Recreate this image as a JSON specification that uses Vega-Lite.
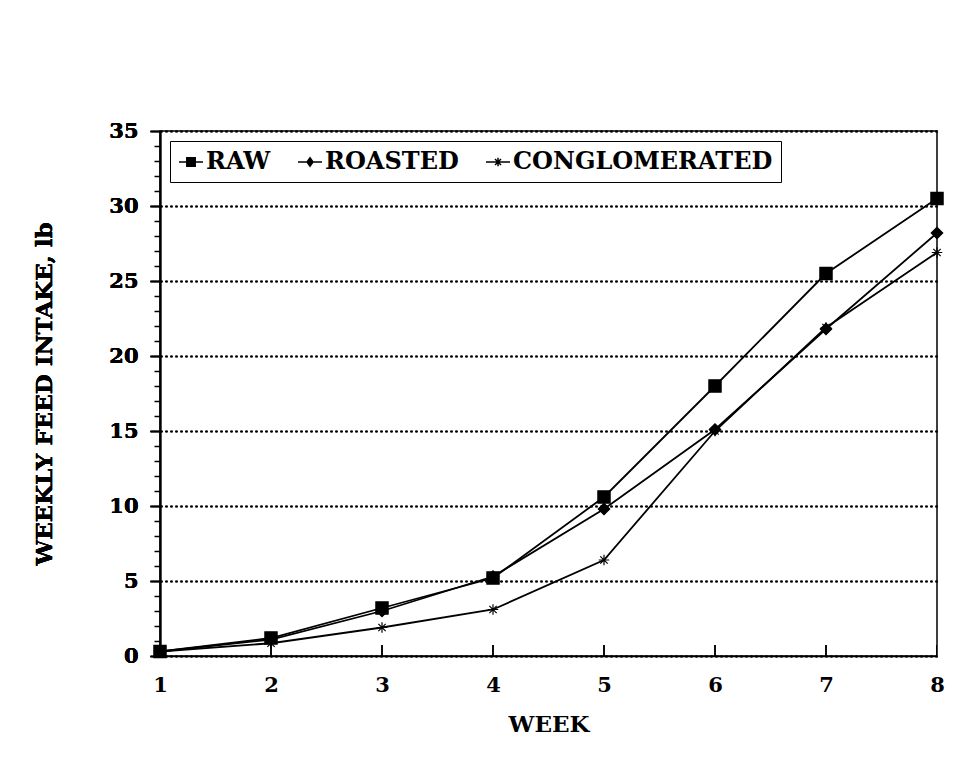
{
  "$schema": "https://vega.github.io/schema/vega-lite/v6.json",
  "width": 777,
  "height": 525,
  "autosize": {"type": "none"},
  "padding": {"left": 160, "top": 131, "right": 21, "bottom": 116},
  "background": "white",
  "config": {
    "view": {"stroke": "black", "strokeWidth": 1.5},
    "font": "DejaVu Serif",
    "axis": {
      "labelFont": "DejaVu Serif",
      "labelFontWeight": "bold",
      "labelFontSize": 21,
      "labelColor": "black",
      "titleFont": "DejaVu Serif",
      "titleFontWeight": "bold",
      "titleFontSize": 23,
      "titleColor": "black",
      "domainColor": "black",
      "domainWidth": 1.5,
      "tickColor": "black",
      "tickWidth": 1.5
    }
  },
  "data": {
    "values": [
      {"week": 1, "series": "RAW", "value": 0.3},
      {"week": 2, "series": "RAW", "value": 1.2},
      {"week": 3, "series": "RAW", "value": 3.2},
      {"week": 4, "series": "RAW", "value": 5.2},
      {"week": 5, "series": "RAW", "value": 10.6},
      {"week": 6, "series": "RAW", "value": 18.0},
      {"week": 7, "series": "RAW", "value": 25.5},
      {"week": 8, "series": "RAW", "value": 30.5},
      {"week": 1, "series": "ROASTED", "value": 0.3},
      {"week": 2, "series": "ROASTED", "value": 1.1},
      {"week": 3, "series": "ROASTED", "value": 3.0},
      {"week": 4, "series": "ROASTED", "value": 5.3},
      {"week": 5, "series": "ROASTED", "value": 9.8},
      {"week": 6, "series": "ROASTED", "value": 15.1},
      {"week": 7, "series": "ROASTED", "value": 21.8},
      {"week": 8, "series": "ROASTED", "value": 28.2},
      {"week": 1, "series": "CONGLOMERATED", "value": 0.3},
      {"week": 2, "series": "CONGLOMERATED", "value": 0.85},
      {"week": 3, "series": "CONGLOMERATED", "value": 1.9},
      {"week": 4, "series": "CONGLOMERATED", "value": 3.1},
      {"week": 5, "series": "CONGLOMERATED", "value": 6.4},
      {"week": 6, "series": "CONGLOMERATED", "value": 15.0},
      {"week": 7, "series": "CONGLOMERATED", "value": 21.9},
      {"week": 8, "series": "CONGLOMERATED", "value": 26.9}
    ]
  },
  "encoding": {
    "x": {
      "field": "week",
      "type": "quantitative",
      "scale": {"domain": [1, 8], "nice": false, "zero": false},
      "axis": {
        "title": "WEEK",
        "values": [1, 2, 3, 4, 5, 6, 7, 8],
        "format": "d",
        "grid": false,
        "ticks": false,
        "labelFlush": false,
        "labelPadding": 18,
        "titlePadding": 18
      }
    },
    "y": {
      "field": "value",
      "type": "quantitative",
      "scale": {"domain": [0, 35], "nice": false},
      "axis": {
        "title": "WEEKLY FEED INTAKE, lb",
        "orient": "left",
        "values": [0, 5, 10, 15, 20, 25, 30, 35],
        "grid": true,
        "gridColor": "black",
        "gridDash": [2, 3],
        "gridWidth": 1.5,
        "tickSize": 10,
        "labelPadding": 12,
        "titlePadding": 52
      }
    }
  },
  "layer": [
    {
      "mark": {"type": "tick", "orient": "vertical", "color": "black", "size": 22, "thickness": 1.8, "clip": true},
      "encoding": {"y": {"datum": 0}}
    },
    {
      "mark": {"type": "line", "color": "black", "strokeWidth": 1.8},
      "encoding": {"detail": {"field": "series"}}
    },
    {
      "mark": {"type": "point", "filled": true, "color": "black", "stroke": "black", "strokeWidth": 1.2, "opacity": 1},
      "encoding": {
        "shape": {
          "field": "series",
          "scale": {
            "domain": ["RAW", "ROASTED", "CONGLOMERATED"],
            "range": [
              "square",
              "diamond",
              "M-1,0H1M0,-1V1M-0.7,-0.7L0.7,0.7M-0.7,0.7L0.7,-0.7"
            ]
          },
          "legend": null
        },
        "size": {
          "field": "series",
          "scale": {"domain": ["RAW", "ROASTED", "CONGLOMERATED"], "range": [150, 110, 110]},
          "legend": null
        }
      }
    },
    {
      "mark": {"type": "point", "filled": true, "color": "black", "stroke": "black", "opacity": 0},
      "encoding": {
        "shape": {
          "field": "series",
          "scale": {
            "domain": ["RAW", "ROASTED", "CONGLOMERATED"],
            "range": [
              "M-1,0H1M-0.35,-0.35H0.35V0.35H-0.35Z",
              "M-1,0H1M0,-0.35L0.25,0L0,0.35L-0.25,0Z",
              "M-1,0H1M0,-0.35V0.35M-0.25,-0.25L0.25,0.25M-0.25,0.25L0.25,-0.25"
            ]
          },
          "legend": {
            "title": null,
            "orient": "top-left",
            "offset": 10,
            "direction": "horizontal",
            "strokeColor": "black",
            "padding": 8,
            "labelFont": "DejaVu Serif",
            "labelFontWeight": "bold",
            "labelFontSize": 24,
            "labelColor": "black",
            "labelLimit": 500,
            "labelOffset": 2,
            "columnPadding": 24,
            "symbolSize": 576,
            "encode": {
              "symbols": {
                "update": {
                  "fill": {"value": "black"},
                  "stroke": {"value": "black"},
                  "strokeWidth": {"value": 1.5},
                  "opacity": {"value": 1}
                }
              }
            }
          }
        }
      }
    },
    {
      "mark": {"type": "point", "opacity": 0},
      "encoding": {
        "y": {
          "field": "value",
          "type": "quantitative",
          "axis": {
            "orient": "left",
            "values": [1, 2, 3, 4, 6, 7, 8, 9, 11, 12, 13, 14, 16, 17, 18, 19, 21, 22, 23, 24, 26, 27, 28, 29, 31, 32, 33, 34],
            "labels": false,
            "domain": false,
            "grid": false,
            "title": null,
            "tickSize": 6
          }
        }
      }
    }
  ],
  "resolve": {"scale": {"shape": "independent", "size": "independent"}, "axis": {"y": "independent"}}
}
